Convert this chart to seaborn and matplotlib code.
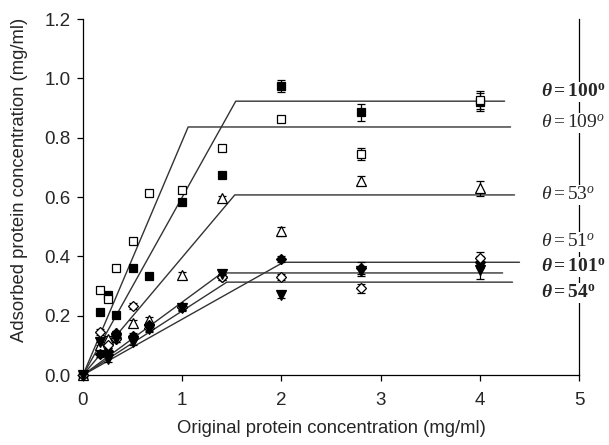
import matplotlib

matplotlib.use("Agg")
import matplotlib.pyplot as plt
import numpy as np
import pandas as pd
import seaborn as sns

# original concentration at which samples were taken (mg/ml)
conc = [0.0, 0.17, 0.25, 0.33, 0.5, 0.67, 1.0, 1.4, 2.0, 2.8, 4.0]

labels = ["θ=100°", "θ=109°", "θ=53°", "θ=51°", "θ=101°", "θ=54°"]
angles = ["100", "109", "53", "51", "101", "54"]
ads_100 = [0.0, 0.213, 0.27, 0.202, 0.362, 0.334, 0.584, 0.674, 0.974, 0.885, 0.92]
ads_109 = [0.0, 0.286, 0.255, 0.36, 0.453, 0.612, 0.624, 0.764, 0.863, 0.744, 0.927]
ads_53 = [0.0, 0.10, 0.12, 0.14, 0.174, 0.185, 0.337, 0.595, 0.485, 0.655, 0.63]
ads_51 = [0.0, 0.07, 0.08, 0.14, 0.13, 0.17, 0.23, 0.33, 0.391, 0.36, 0.38]
ads_101 = [0.0, 0.146, 0.10, 0.12, 0.232, 0.16, 0.23, 0.33, 0.331, 0.292, 0.395]
ads_54 = [0.0, 0.112, 0.055, 0.12, 0.112, 0.155, 0.225, 0.34, 0.27, 0.35, 0.355]

err_100 = [0.0, 0.01, 0.01, 0.01, 0.01, 0.01, 0.01, 0.01, 0.02, 0.03, 0.03]
err_109 = [0.0, 0.01, 0.01, 0.01, 0.01, 0.01, 0.01, 0.01, 0.01, 0.02, 0.03]
err_53 = [0.0, 0.01, 0.01, 0.01, 0.01, 0.01, 0.01, 0.01, 0.015, 0.015, 0.025]
err_51 = [0.0, 0.01, 0.01, 0.01, 0.01, 0.01, 0.01, 0.01, 0.01, 0.02, 0.02]
err_101 = [0.0, 0.01, 0.01, 0.01, 0.01, 0.01, 0.01, 0.01, 0.01, 0.015, 0.02]
err_54 = [0.0, 0.01, 0.01, 0.01, 0.01, 0.01, 0.01, 0.01, 0.01, 0.015, 0.03]

# fitted isotherm: linear rise to a break point, then a plateau
fit_break = [1.54, 1.06, 1.53, 2.02, 1.40, 1.45]
fit_plateau = [0.923, 0.836, 0.607, 0.38, 0.344, 0.313]
fit_end = [4.25, 4.31, 4.35, 4.40, 4.23, 4.33]

label_y = [0.954, 0.85, 0.607, 0.448, 0.364, 0.276]
label_bold = [True, False, False, False, True, True]

series = [ads_100, ads_109, ads_53, ads_51, ads_101, ads_54]
errors = [err_100, err_109, err_53, err_51, err_101, err_54]
markers = ["s", "s", "^", "D", "D", "v"]
filled = [True, False, False, True, False, True]
marker_sizes = [6, 6, 6.5, 5, 5, 6.5]

sns.set_theme(style="ticks")
plt.rcParams["font.family"] = ["Liberation Sans", "DejaVu Sans"]
plt.rcParams["mathtext.fontset"] = "custom"
plt.rcParams["mathtext.rm"] = "Liberation Serif"
plt.rcParams["mathtext.it"] = "Liberation Serif:italic"
plt.rcParams["mathtext.bf"] = "Liberation Serif:bold"
plt.rcParams["mathtext.bfit"] = "Liberation Serif:bold:italic"

figure = plt.figure(figsize=(6.09, 4.45), dpi=100)
axis = figure.add_axes([83 / 609, 70 / 445, 496 / 609, 356 / 445])

fit_rows = []
for name, xb, plateau, xe in zip(labels, fit_break, fit_plateau, fit_end):
    for x, y in [(0.0, 0.0), (xb, plateau), (xe, plateau)]:
        fit_rows.append({"series": name, "x": x, "y": y})
fits = pd.DataFrame(fit_rows)
sns.lineplot(
    data=fits,
    x="x",
    y="y",
    units="series",
    estimator=None,
    sort=False,
    color="#333333",
    linewidth=1.0,
    ax=axis,
    legend=False,
)

for values, err, marker, is_filled, size in zip(series, errors, markers, filled, marker_sizes):
    axis.errorbar(
        conc,
        values,
        yerr=err,
        fmt=marker,
        markersize=size,
        markerfacecolor="black" if is_filled else "white",
        markeredgecolor="black",
        markeredgewidth=0.9,
        ecolor="black",
        elinewidth=0.9,
        capsize=3,
        capthick=0.9,
        clip_on=False,
        zorder=3,
    )

for angle, y, bold in zip(angles, label_y, label_bold):
    if bold:
        text = r"$\mathbfit{\theta}\mathbf{=" + angle + r"^o}$"
    else:
        text = r"$\theta=" + angle + r"^o$"
    axis.text(
        4.62,
        y,
        text,
        fontsize=14,
        va="center",
        ha="left",
        clip_on=False,
        zorder=5,
        bbox=dict(facecolor="white", edgecolor="none", pad=1.0),
    )

axis.set_xlim(0, 5)
axis.set_ylim(0, 1.2)
axis.set_xticks(np.arange(0, 6, 1))
axis.set_yticks(np.arange(0, 1.21, 0.2))
axis.set_yticklabels([f"{v:.1f}" for v in np.arange(0, 1.21, 0.2)])
axis.set_xlabel("Original protein concentration (mg/ml)", fontsize=13.3, labelpad=8)
axis.set_ylabel("Adsorbed protein concentration (mg/ml)", fontsize=13.3)
axis.yaxis.set_label_coords(-0.111, 0.548)
axis.tick_params(axis="both", labelsize=13.5, length=4, width=0.9, color="black", direction="out")
axis.tick_params(axis="x", pad=8)
axis.tick_params(axis="y", pad=5)
axis.spines["top"].set_visible(False)
for side in ["left", "right", "bottom"]:
    axis.spines[side].set_color("black")
    axis.spines[side].set_linewidth(0.9)

figure.savefig("out.png", dpi=100)
plt.close(figure)
